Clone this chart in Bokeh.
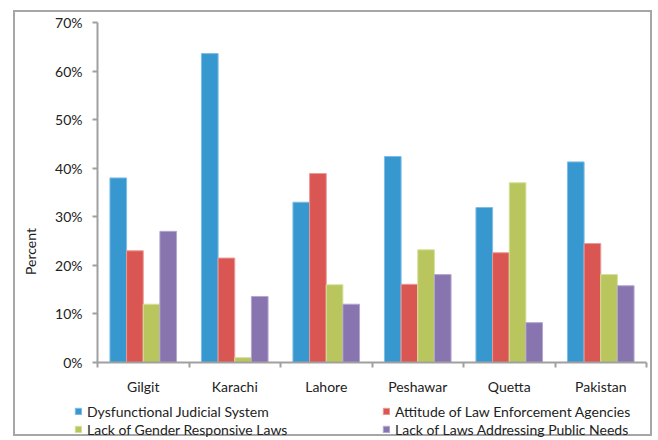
import math
from bokeh.plotting import figure
from bokeh.models import (ColumnDataSource, FixedTicker, PrintfTickFormatter, Legend,
                          LegendItem, Range1d, Label)
from bokeh.transform import dodge
from bokeh.embed import file_html
from bokeh.resources import INLINE

cities = ["Gilgit", "Karachi", "Lahore", "Peshawar", "Quetta", "Pakistan"]
series_names = ["Dysfunctional Judicial System", "Attitude of Law Enforcement Agencies",
                "Lack of Gender Responsive Laws", "Lack of Laws Addressing Public Needs"]
dysfunctional = [38.0, 63.6, 33.0, 42.4, 31.9, 41.3]
attitude = [23.0, 21.5, 38.9, 16.1, 22.6, 24.5]
gender_laws = [12.0, 1.0, 16.0, 23.2, 37.0, 18.1]
public_needs = [27.0, 13.6, 12.0, 18.1, 8.2, 15.8]
y_ticks = [0, 10, 20, 30, 40, 50, 60, 70]

colors = ["#3797CF", "#D95652", "#B8C65D", "#8874AF"]
edge_colors = ["#7DBDE6", "#EB9996", "#D6E09A", "#B3A6CF"]
FONT = "Lato"
FS = "14px"
TXT = "#222222"
AXC = "#A0A0A0"

n = len(cities)
centers = [i + 0.5 for i in range(n)]
source = ColumnDataSource(dict(x=centers, s0=dysfunctional, s1=attitude,
                               s2=gender_laws, s3=public_needs))

W, H = 639, 426
# plot area in canvas pixels: x 82..631, y(top) 10..350 (0%..70%)
px_per_cat = (631 - 82) / n
px_per_pct = (350 - 10) / 70.0
x_lo = -82 / px_per_cat
x_hi = n + (W - 631) / px_per_cat
y_hi = 70 + 10 / px_per_pct
y_lo = -(H - 350) / px_per_pct

p = figure(width=W, height=H, output_backend="svg", toolbar_location=None,
           x_range=Range1d(x_lo, x_hi), y_range=Range1d(y_lo, y_hi),
           min_border=0, min_border_left=0, min_border_right=0,
           min_border_top=0, min_border_bottom=0)
p.styles = {"border": "2px solid #A6A6A6", "margin-left": "13px", "margin-top": "10px"}
p.outline_line_color = None
p.xgrid.visible = False
p.ygrid.visible = False

bw = 0.182
offsets = [-1.5 * bw, -0.5 * bw, 0.5 * bw, 1.5 * bw]
renderers = []
for k in range(4):
    r = p.vbar(x=dodge("x", offsets[k], range=p.x_range), top="s%d" % k, width=bw,
               source=source, fill_color=colors[k], line_color=edge_colors[k], line_width=1)
    renderers.append(r)

# x axis
xa = p.xaxis[0]
xa.fixed_location = 0
xa.bounds = (0, n)
xa.ticker = FixedTicker(ticks=centers, minor_ticks=list(range(n + 1)))
xa.major_label_overrides = {c: name for c, name in zip(centers, cities)}
xa.major_tick_line_color = None
xa.major_tick_out = 6
xa.minor_tick_in = 0
xa.minor_tick_out = 5
xa.minor_tick_line_color = AXC
xa.minor_tick_line_width = 2
xa.axis_line_color = AXC
xa.axis_line_width = 2
xa.major_label_standoff = 9
xa.major_label_text_font = FONT
xa.major_label_text_font_size = FS
xa.major_label_text_color = TXT

# y axis
ya = p.yaxis[0]
ya.fixed_location = 0
ya.bounds = (0, 70)
ya.ticker = FixedTicker(ticks=y_ticks)
ya.formatter = PrintfTickFormatter(format="%d%%")
ya.minor_tick_line_color = None
ya.major_tick_in = 0
ya.major_tick_out = 5
ya.major_tick_line_color = AXC
ya.major_tick_line_width = 2
ya.axis_line_color = AXC
ya.axis_line_width = 2
ya.major_label_standoff = 10
ya.major_label_text_font = FONT
ya.major_label_text_font_size = FS
ya.major_label_text_color = TXT

p.add_layout(Label(x=15, y=H - 239, x_units="screen", y_units="screen", text="Percent",
                   angle=math.pi / 2, text_align="center", text_baseline="middle",
                   text_font=FONT, text_font_size=FS, text_color=TXT))

def make_legend(idx, loc):
    lg = Legend(items=[LegendItem(label=series_names[i], renderers=[renderers[i]]) for i in idx],
                location=loc, orientation="vertical")
    lg.glyph_width = 8
    lg.glyph_height = 8
    lg.label_height = 18
    lg.spacing = 0
    lg.padding = 0
    lg.margin = 0
    lg.label_standoff = 5
    lg.border_line_color = None
    lg.background_fill_alpha = 0
    lg.label_text_font = FONT
    lg.label_text_font_size = FS
    lg.label_text_color = TXT
    return lg

p.add_layout(make_legend([0, 2], (59, 0)))
p.add_layout(make_legend([1, 3], (367, 0)))

open("out.html", "w").write(file_html(p, INLINE))
